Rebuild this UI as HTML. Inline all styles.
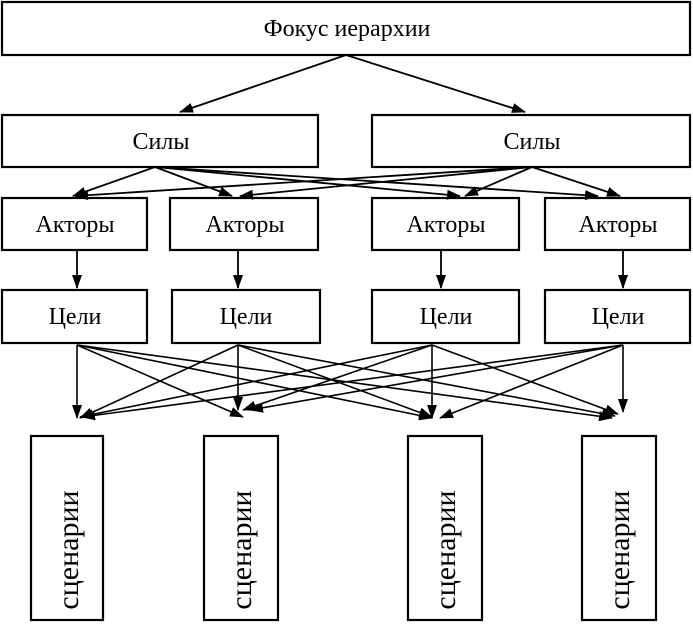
<!DOCTYPE html>
<html><head><meta charset="utf-8"><style>
body{margin:0;background:#fff}
svg text{font-family:"Liberation Serif",serif;fill:#000}
</style></head><body>
<svg width="693" height="622" viewBox="0 0 693 622" xmlns="http://www.w3.org/2000/svg">
<defs><marker id="a" markerWidth="14" markerHeight="12" refX="13" refY="6" orient="auto" markerUnits="userSpaceOnUse"><path d="M0,1 L14,6 L0,11 Z" fill="#000"/></marker></defs>
<g fill="none" stroke="#000" stroke-width="2.2">
<rect x="2" y="2" width="688" height="53"/>
<rect x="2" y="115" width="316" height="52"/>
<rect x="372" y="115" width="318" height="52"/>
<rect x="2" y="198" width="145" height="52"/>
<rect x="170" y="198" width="148" height="52"/>
<rect x="372" y="198" width="147" height="52"/>
<rect x="545" y="198" width="145" height="52"/>
<rect x="2" y="290" width="145" height="53"/>
<rect x="172" y="290" width="148" height="53"/>
<rect x="372" y="290" width="147" height="53"/>
<rect x="545" y="290" width="145" height="53"/>
<rect x="31" y="436" width="72" height="184"/>
<rect x="204" y="436" width="74" height="184"/>
<rect x="408" y="436" width="74" height="184"/>
<rect x="582" y="436" width="74" height="184"/>
</g>
<g stroke="#000" stroke-width="1.8" marker-end="url(#a)">
<line x1="346" y1="55" x2="180" y2="112"/>
<line x1="346" y1="55" x2="525" y2="112"/>
<line x1="155" y1="167" x2="73" y2="196"/>
<line x1="155" y1="167" x2="232" y2="196"/>
<line x1="155" y1="167" x2="460" y2="196"/>
<line x1="155" y1="167" x2="598" y2="196"/>
<line x1="532" y1="167" x2="75" y2="196"/>
<line x1="532" y1="167" x2="240" y2="196"/>
<line x1="532" y1="167" x2="465" y2="196"/>
<line x1="532" y1="167" x2="620" y2="196"/>
<line x1="77" y1="250" x2="77" y2="288"/>
<line x1="238" y1="250" x2="238" y2="288"/>
<line x1="441" y1="250" x2="441" y2="288"/>
<line x1="623" y1="250" x2="623" y2="288"/>
</g>
<g stroke="#000" stroke-width="1.6" marker-end="url(#a)">
<line x1="77" y1="345" x2="77" y2="418"/>
<line x1="77" y1="345" x2="243" y2="417"/>
<line x1="77" y1="345" x2="432" y2="418"/>
<line x1="77" y1="345" x2="612" y2="418"/>
<line x1="238" y1="345" x2="80" y2="418"/>
<line x1="238" y1="345" x2="238" y2="410"/>
<line x1="238" y1="345" x2="432" y2="417"/>
<line x1="238" y1="345" x2="615" y2="416"/>
<line x1="432" y1="345" x2="80" y2="417"/>
<line x1="432" y1="345" x2="243" y2="410"/>
<line x1="432" y1="345" x2="432" y2="418"/>
<line x1="432" y1="345" x2="618" y2="414"/>
<line x1="623" y1="345" x2="82" y2="417"/>
<line x1="623" y1="345" x2="250" y2="410"/>
<line x1="623" y1="345" x2="440" y2="418"/>
<line x1="623" y1="345" x2="623" y2="412"/>
</g>
<g font-size="24" text-anchor="middle">
<text x="347" y="36">Фокус иерархии</text>
<text x="161" y="149">Силы</text>
<text x="532" y="149">Силы</text>
<text x="75" y="232">Акторы</text>
<text x="245" y="232">Акторы</text>
<text x="446" y="232">Акторы</text>
<text x="618" y="232">Акторы</text>
<text x="75" y="324">Цели</text>
<text x="246" y="324">Цели</text>
<text x="446" y="324">Цели</text>
<text x="618" y="324">Цели</text>
</g>
<g font-size="30" text-anchor="middle">
<text transform="translate(78,550) rotate(-90)">сценарии</text>
<text transform="translate(251,550) rotate(-90)">сценарии</text>
<text transform="translate(455,550) rotate(-90)">сценарии</text>
<text transform="translate(629,550) rotate(-90)">сценарии</text>
</g>
</svg>
</body></html>
